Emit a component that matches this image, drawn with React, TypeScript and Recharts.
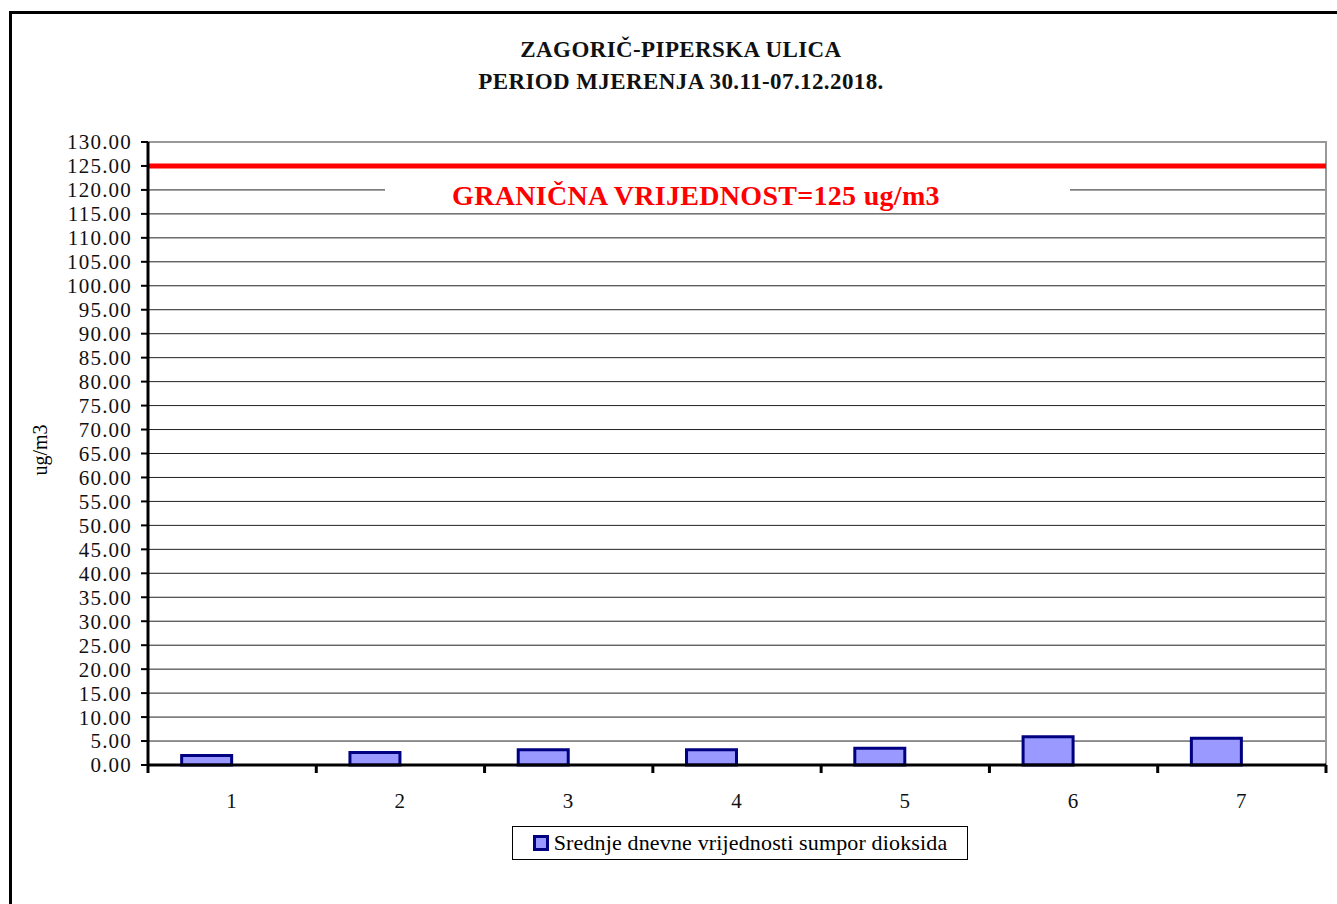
import React from "react"
import { Bar, BarChart, CartesianGrid, ReferenceArea, ReferenceLine, XAxis, YAxis } from "recharts"

const days = ["1", "2", "3", "4", "5", "6", "7"]
const so2Daily = [2.0, 2.6, 3.2, 3.2, 3.5, 5.9, 5.6]
const yTicks = [0, 5, 10, 15, 20, 25, 30, 35, 40, 45, 50, 55, 60, 65, 70, 75, 80, 85, 90, 95, 100, 105, 110, 115, 120, 125, 130]
const limitValue = 125
const seriesName = "Srednje dnevne vrijednosti sumpor dioksida"
const titleLines = ["ZAGORIČ-PIPERSKA ULICA", "PERIOD MJERENJA 30.11-07.12.2018."]
const limitLabel = "GRANIČNA VRIJEDNOST=125 ug/m3"

const data = days.map((d, i) => ({ day: d, so2: so2Daily[i] }))

const W = 1337
const H = 904
const margin = { top: 142, right: 11, left: 0, bottom: 79 }
const Y_AXIS_W = 148
const PLOT_W = W - Y_AXIS_W - margin.right
const FONT = "'Liberation Serif', 'Times New Roman', serif"

function XTick(props: any) {
  const { x, y, payload, index } = props
  const band = PLOT_W / days.length
  const left = x - band / 2
  return (
    <g>
      <line x1={left} x2={left} y1={y} y2={y + 8} stroke="#000" strokeWidth={3} />
      {index === days.length - 1 && (
        <line x1={left + band} x2={left + band} y1={y} y2={y + 8} stroke="#000" strokeWidth={3} />
      )}
      <text x={x} y={y + 43} textAnchor="middle" fontSize={21} fontFamily={FONT} fill="#111" letterSpacing={1.2}>
        {payload.value}
      </text>
    </g>
  )
}

function LimitLabel(props: any) {
  const { viewBox } = props
  const x = viewBox.x
  const y = viewBox.y
  return (
    <g>
      <rect x={x + 237} y={y + 16} width={685} height={29} fill="#fff" />
      <text x={x + 548} y={y + 39} textAnchor="middle" fontSize={28} fontWeight="bold" fontFamily={FONT} fill="#FF0000" letterSpacing={0.3}>
        {limitLabel}
      </text>
    </g>
  )
}

export default function App() {
  return (
    <div style={{ position: "fixed", left: 0, top: 0, width: W, height: H, overflow: "hidden", background: "#fff" }}>
      <div style={{ position: "absolute", left: 9, top: 11, width: 2000, height: 2000, border: "3px solid #000" }} />
      <div style={{ position: "absolute", left: 381, top: 34, width: 600, textAlign: "center", fontFamily: FONT, fontSize: 23, fontWeight: "bold", letterSpacing: 0.4, lineHeight: "32px", color: "#111" }}>
        {titleLines.map((t) => (
          <div key={t}>{t}</div>
        ))}
      </div>
      <div style={{ position: "absolute", left: 40, top: 450, transform: "translate(-50%, -50%) rotate(-90deg)", fontFamily: FONT, fontSize: 20, whiteSpace: "nowrap" }}>
        ug/m3
      </div>
      <div style={{ position: "absolute", left: 0, top: 0 }}>
        <BarChart width={W} height={H} data={data} margin={margin} barCategoryGap="20%" barGap={0}>
          <CartesianGrid vertical={false} stroke="#222" strokeWidth={1} />
          <ReferenceArea y1={0} y2={130} fill="none" stroke="#999" strokeWidth={2} />
          <XAxis
            dataKey="day"
            height={60}
            tickSize={0}
            tickMargin={0}
            tick={<XTick />}
            axisLine={{ stroke: "#000", strokeWidth: 3 }}
          />
          <YAxis
            width={Y_AXIS_W}
            domain={[0, 130]}
            ticks={yTicks}
            interval={0}
            tickFormatter={(v) => v.toFixed(2)}
            tickSize={7}
            tickMargin={9}
            tick={{ fill: "#111", fontSize: 21, fontFamily: FONT, letterSpacing: 1.2 }}
            tickLine={{ stroke: "#000", strokeWidth: 2 }}
            axisLine={{ stroke: "#000", strokeWidth: 3 }}
          />
          <Bar dataKey="so2" name={seriesName} fill="#9999FF" stroke="#000080" strokeWidth={3} isAnimationActive={false} />
          <Bar dataKey="spacer" legendType="none" fill="none" isAnimationActive={false} />
          <ReferenceLine y={limitValue} stroke="#FF0000" strokeWidth={5} label={<LimitLabel />} />
        </BarChart>
      </div>
      <div
        style={{
          position: "absolute",
          left: 512,
          top: 826,
          width: 454,
          height: 32,
          border: "1px solid #000",
          display: "flex",
          alignItems: "center",
          justifyContent: "center",
          fontFamily: FONT,
          fontSize: 22,
          letterSpacing: 0.15,
        }}
      >
        <span style={{ display: "inline-block", width: 10, height: 10, background: "#9999FF", border: "3px solid #000080", marginRight: 5 }} />
        {seriesName}
      </div>
    </div>
  )
}
